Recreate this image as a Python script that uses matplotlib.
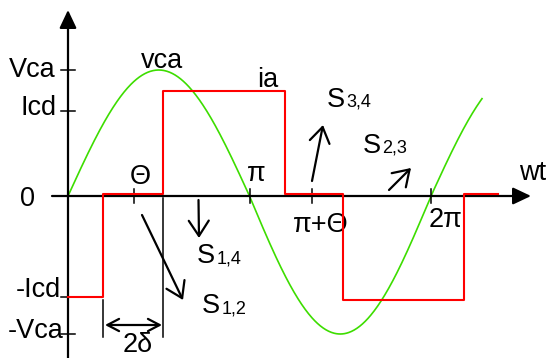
import numpy as np
import matplotlib
matplotlib.use("Agg")
import matplotlib.pyplot as plt

# ---------------- data (x in units of pi, y normalised to Vca) ----------------
vca_amp = 1.0
vca_t_end = 2.281                     # sine drawn from 0 to ~2.28 pi
ia_t = [0.0, 0.193, 0.523, 1.196, 1.515, 2.182, 2.369]
ia_level = [-0.73, 0.018, 0.83, 0.018, -0.75, 0.018]
ytick_vals = [1.0, 0.675, -0.732, -1.0]
ytick_labels = ["Vca", "Icd", "-Icd", "-Vca"]
xtick_vals = [0.364, 1.0, 1.344, 2.0]
xtick_labels = ["\u0398", "\u03c0", "\u03c0+\u0398", "2\u03c0"]
delta_edges = [0.193, 0.523]

# ---------------- layout helpers (pixel -> data) ----------------
X0, PXPI, Y0, UP, DN = 68.0, 181.5, 196.0, 126.0, 138.0
W, H = 547, 358


def dx(px):
    return (px - X0) / PXPI


def dy(py):
    v = Y0 - py
    return v / UP if v >= 0 else v / DN


def fwd(y):
    y = np.asarray(y, dtype=float)
    return np.where(y >= 0, y * UP, y * DN)


def inv(u):
    u = np.asarray(u, dtype=float)
    return np.where(u >= 0, u / UP, u / DN)


plt.rcParams['font.family'] = ['Liberation Sans', 'DejaVu Sans']
fig = plt.figure(figsize=(W / 100, H / 100), dpi=100)
ax = fig.add_axes([0, 0, 1, 1])
ax.set_yscale('function', functions=(fwd, inv))
ax.set_xlim(dx(0), dx(W))
ax.set_ylim(dy(H), dy(0))
ax.axis('off')

BIG = 19.5
SUB = 13

# sine vca
t = np.linspace(0, vca_t_end, 600)
ax.plot(t, vca_amp * np.sin(np.pi * t), color='#3ddd00', lw=1.2, zorder=2)

# square ia
ax.step(ia_t, ia_level + [ia_level[-1]], where='post', color='#ff0000', lw=1.5, zorder=4)

# axes with filled arrow heads
ax.annotate('', xy=(0, dy(10)), xytext=(0, dy(H + 5)),
            arrowprops=dict(arrowstyle='-|>,head_length=0.55,head_width=0.26',
                            mutation_scale=20, lw=1.6, color='black',
                            shrinkA=0, shrinkB=0), zorder=3)
ax.annotate('', xy=(dx(531), 0), xytext=(dx(52), 0),
            arrowprops=dict(arrowstyle='-|>,head_length=0.55,head_width=0.26',
                            mutation_scale=20, lw=1.6, color='black',
                            shrinkA=0, shrinkB=0), zorder=3)

# y ticks + labels
for v, lab in zip(ytick_vals, ytick_labels):
    ax.plot([dx(61), dx(75)], [v, v], color='black', lw=1.1, zorder=3)
ax.text(dx(56), dy(77), "Vca", fontsize=BIG, ha='right', va='baseline')
ax.text(dx(57), dy(115), "Icd", fontsize=BIG, ha='right', va='baseline')
ax.text(dx(61), dy(297), "-Icd", fontsize=BIG, ha='right', va='baseline')
ax.text(dx(64), dy(338), "-Vca", fontsize=BIG, ha='right', va='baseline')
ax.text(dx(27.5), dy(206), "0", fontsize=BIG, ha='center', va='baseline')

# x ticks + labels
for v in xtick_vals:
    ax.plot([v, v], [dy(189), dy(203)], color='black', lw=1.1, zorder=3)
ax.text(dx(140), dy(184), xtick_labels[0], fontsize=BIG, ha='center', va='baseline')
ax.text(dx(256), dy(181), xtick_labels[1], fontsize=BIG, ha='center', va='baseline')
ax.text(dx(321), dy(232), xtick_labels[2], fontsize=BIG, ha='center', va='baseline')
ax.text(dx(446), dy(227), xtick_labels[3], fontsize=BIG, ha='center', va='baseline')
ax.text(dx(519), dy(180), "wt", fontsize=BIG, ha='left', va='baseline')

# curve labels
ax.text(dx(162), dy(68), "vca", fontsize=BIG, ha='center', va='baseline')
ax.text(dx(268), dy(87), "ia", fontsize=BIG, ha='center', va='baseline')

# 2 delta markers
ax.plot([delta_edges[0]] * 2, [dy(300), dy(337)], color='black', lw=1.1, zorder=3)
ax.plot([delta_edges[1]] * 2, [dy(198), dy(337)], color='black', lw=1.1, zorder=3)
ax.annotate('', xy=(dx(162), dy(325)), xytext=(dx(105), dy(325)),
            arrowprops=dict(arrowstyle='<->,head_length=0.42,head_width=0.22',
                            mutation_scale=20, lw=1.6, color='black',
                            shrinkA=0, shrinkB=0))
ax.text(dx(138), dy(352), "2\u03b4", fontsize=BIG, ha='center', va='baseline')

# switching arrows
arrow_kw = dict(arrowstyle='->,head_length=0.55,head_width=0.36',
                mutation_scale=20, lw=1.6, color='black', shrinkA=0, shrinkB=0)
ax.annotate('', xy=(dx(183), dy(300)), xytext=(dx(142), dy(215)), arrowprops=arrow_kw)
ax.annotate('', xy=(dx(199), dy(238)), xytext=(dx(198.5), dy(200)), arrowprops=arrow_kw)
ax.annotate('', xy=(dx(323), dy(125)), xytext=(dx(312), dy(181)), arrowprops=arrow_kw)
ax.annotate('', xy=(dx(411), dy(168)), xytext=(dx(389), dy(190)), arrowprops=arrow_kw)


def slabel(xp, yp, sub):
    ax.text(dx(xp), dy(yp), "S", fontsize=BIG, ha='left', va='baseline')
    ax.text(dx(xp + 19.5), dy(yp), sub, fontsize=SUB, ha='left', va='baseline')


slabel(197, 263, "1,4")
slabel(202, 313, "1,2")
slabel(327, 107, "3,4")
slabel(363, 153, "2,3")

fig.savefig("out.png", dpi=100)
